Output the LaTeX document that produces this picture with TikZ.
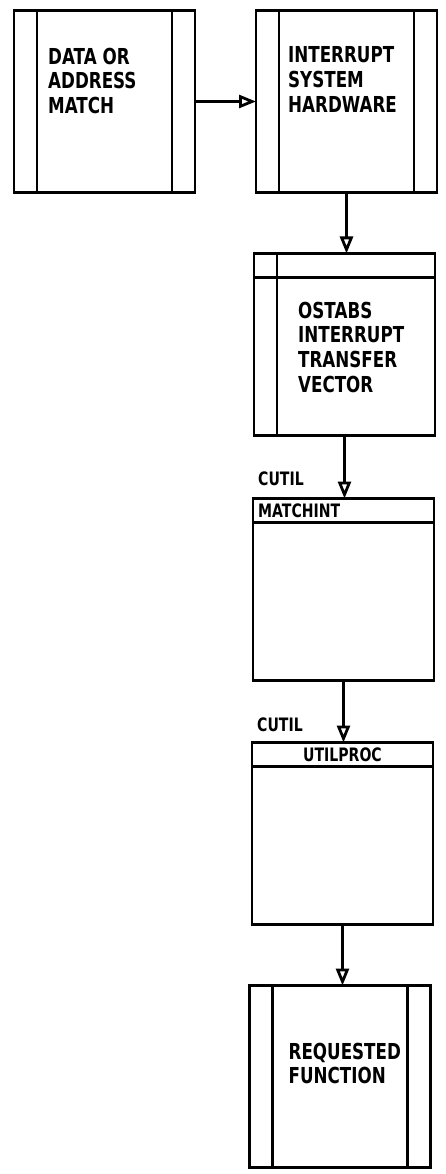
\documentclass[tikz,border=0pt]{standalone}
\usepackage{fontspec}
\setmainfont{DejaVu Sans}[FakeStretch=0.76]
\usepackage{tikz}
\usetikzlibrary{arrows.meta, positioning}
\tikzset{
  box/.style={rectangle, draw=black, line width=2.6pt, fill=white,
              minimum width=181pt, minimum height=182pt,
              inner sep=0pt, outer sep=0pt},
  procbox/.style={box, path picture={
      \draw[line width=2.4pt] ([xshift=23pt]path picture bounding box.north west)
                           -- ([xshift=23pt]path picture bounding box.south west);
      \draw[line width=2.4pt] ([xshift=-23pt]path picture bounding box.north east)
                           -- ([xshift=-23pt]path picture bounding box.south east);}},
  tablebox/.style={box, path picture={
      \draw[line width=2.4pt] ([xshift=23pt]path picture bounding box.north west)
                           -- ([xshift=23pt]path picture bounding box.south west);
      \draw[line width=2.4pt] ([yshift=-24pt]path picture bounding box.north west)
                           -- ([yshift=-24pt]path picture bounding box.north east);}},
  headbox/.style={box, path picture={
      \draw[line width=2.4pt] ([yshift=-24pt]path picture bounding box.north west)
                           -- ([yshift=-24pt]path picture bounding box.north east);}},
  txt/.style={inner sep=0pt, align=left,
              font=\fontsize{22}{24.8}\selectfont\bfseries},
  lbl/.style={inner sep=0pt, font=\fontsize{18.5}{20}\selectfont\bfseries},
  arr/.style={-{Triangle[open, length=17pt, width=13pt, line width=2.8pt]},
              line width=2.4pt},
}
\begin{document}
\begin{tikzpicture}[x=1pt, y=-1pt]
      \useasboundingbox (0,0) rectangle (446,1174);

      \node[procbox] (match) at (104.5,101.5) {};
      \node[procbox, right=61pt of match] (hw) {};
      \node[tablebox, below=61pt of hw, xshift=-2pt] (ostabs) {};
      \node[headbox, below=63pt of ostabs, xshift=-1pt] (matchint) {};
      \node[headbox, below=62pt of matchint, xshift=-1pt] (utilproc) {};
      \node[procbox, below=61pt of utilproc, xshift=-2.5pt] (reqfn) {};

      \node[txt, below right=37pt and 34pt of match.north west] (matchtxt)
           {DATA OR\\ADDRESS\\MATCH};
      \node[txt, below right=36pt and 32pt of hw.north west] (hwtxt)
           {INTERRUPT\\SYSTEM\\HARDWARE};
      \node[txt, below right=48pt and 44pt of ostabs.north west] (ostabstxt)
           {OSTABS\\INTERRUPT\\TRANSFER\\VECTOR};
      \node[txt, below right=57pt and 39pt of reqfn.north west] (reqfntxt)
           {REQUESTED\\FUNCTION};

      \node[lbl, anchor=west] (matchinthd) at ([shift={(5pt,-12pt)}]matchint.north west) {MATCHINT};
      \node[lbl] (utilprochd) at ([yshift=-12pt]utilproc.north) {UTILPROC};
      \node[lbl, above right=13pt and 5pt of matchint.north west] (cutila) {CUTIL};
      \node[lbl, above right=11pt and 5pt of utilproc.north west] (cutilb) {CUTIL};

      \draw[arr] (match.east) -- (hw.west);
      \draw[arr] (hw.south) -- (hw.south |- ostabs.north);
      \draw[arr] (ostabs.south) -- (ostabs.south |- matchint.north);
      \draw[arr] (matchint.south) -- (matchint.south |- utilproc.north);
      \draw[arr] (utilproc.south) -- (utilproc.south |- reqfn.north);
    \end{tikzpicture}
\end{document}
